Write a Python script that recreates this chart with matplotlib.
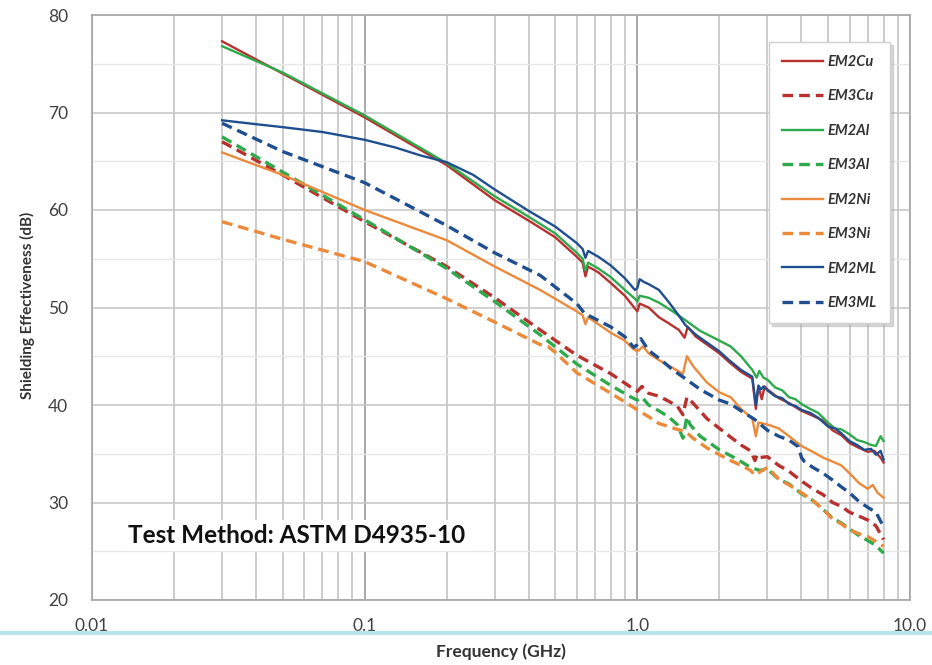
import matplotlib
matplotlib.use("Agg")
import matplotlib.pyplot as plt
from matplotlib.lines import Line2D
from matplotlib.ticker import LogLocator, MultipleLocator, NullFormatter

plt.rcParams['font.family'] = ['Lato', 'DejaVu Sans']

# frequency (GHz) / shielding effectiveness (dB)
f_em2cu = [0.03, 0.05, 0.1, 0.2, 0.3, 0.4, 0.5, 0.6, 0.63, 0.645, 0.66, 0.72, 0.8, 0.9, 0.98, 1.0,
           1.02, 1.1, 1.2, 1.3, 1.42, 1.49, 1.53, 1.64, 2.0, 2.17, 2.4, 2.64, 2.72, 2.78, 2.86,
           2.93, 3.0, 3.3, 3.6, 4.0, 4.4, 4.8, 5.2, 5.6, 6.0, 6.5, 7.0, 7.4, 7.8, 8.0]
se_em2cu = [77.3, 74.0, 69.5, 64.6, 61.0, 58.9, 57.2, 55.2, 54.6, 53.2, 54.2, 53.6, 52.5, 51.2, 49.9, 49.6,
            50.4, 50.0, 49.0, 48.4, 47.7, 46.9, 48.0, 47.0, 45.3, 44.4, 43.4, 42.7, 39.6, 41.9, 40.6,
            41.9, 41.6, 40.7, 40.2, 39.4, 38.9, 38.4, 37.4, 36.9, 36.1, 35.6, 35.2, 35.3, 34.6, 34.1]

f_em3cu = [0.03, 0.05, 0.1, 0.2, 0.3, 0.44, 0.6, 0.8, 0.95, 1.0, 1.04, 1.1, 1.2, 1.3, 1.4, 1.47,
           1.52, 1.6, 1.8, 2.0, 2.2, 2.4, 2.6, 2.7, 2.75, 2.8, 3.0, 3.3, 3.6, 4.0, 4.4, 4.8, 5.2,
           5.6, 6.0, 6.5, 7.0, 7.5, 8.0]
se_em3cu = [67.0, 63.6, 58.8, 54.2, 51.0, 47.7, 45.1, 43.2, 41.8, 41.4, 41.9, 41.2, 40.9, 40.4, 39.9, 39.0,
            40.8, 40.2, 38.6, 37.6, 36.7, 35.9, 35.3, 34.3, 34.9, 34.6, 34.7, 33.8, 33.2, 32.2, 31.4, 30.8, 30.0,
            29.6, 29.0, 28.6, 28.2, 27.6, 26.2]

f_em2al = [0.03, 0.05, 0.1, 0.2, 0.3, 0.4, 0.5, 0.6, 0.63, 0.645, 0.66, 0.72, 0.8, 0.9, 0.98, 1.0,
           1.02, 1.1, 1.2, 1.35, 1.5, 1.7, 2.0, 2.2, 2.4, 2.64, 2.74, 2.8, 2.9, 3.0, 3.2, 3.4, 3.6,
           3.8, 4.0, 4.3, 4.6, 5.0, 5.3, 5.6, 6.0, 6.4, 6.8, 7.2, 7.5, 7.8, 8.0]
se_em2al = [76.8, 74.1, 69.7, 64.8, 61.4, 59.3, 57.6, 55.6, 55.0, 53.8, 54.6, 54.0, 53.1, 51.8, 50.9, 50.6,
            51.2, 51.0, 50.5, 49.6, 48.7, 47.6, 46.6, 46.0, 45.0, 43.6, 42.8, 43.5, 42.8, 42.6, 41.8, 41.5, 40.8,
            40.6, 40.1, 39.6, 39.2, 38.2, 37.6, 37.5, 37.0, 36.4, 36.2, 35.9, 35.8, 36.8, 36.3]

f_em3al = [0.03, 0.05, 0.1, 0.2, 0.3, 0.44, 0.6, 0.8, 0.95, 1.0, 1.04, 1.1, 1.2, 1.3, 1.4, 1.47,
           1.52, 1.56, 1.7, 2.0, 2.2, 2.4, 2.6, 2.8, 3.0, 3.3, 3.6, 4.0, 4.4, 4.8, 5.2, 5.6, 6.0,
           6.5, 7.0, 7.5, 8.0]
se_em3al = [67.5, 63.9, 59.0, 54.0, 50.6, 47.2, 44.2, 42.0, 40.8, 40.5, 40.8, 40.0, 39.4, 38.8, 38.0, 36.6,
            38.8, 38.0, 36.8, 35.4, 34.8, 34.2, 33.6, 33.3, 33.4, 32.4, 31.9, 30.9, 30.2, 29.3, 28.4, 27.9, 27.3,
            26.6, 26.1, 25.6, 24.8]

f_em2ni = [0.03, 0.05, 0.1, 0.2, 0.3, 0.44, 0.6, 0.63, 0.645, 0.66, 0.8, 0.9, 0.96, 1.0, 1.05, 1.1,
           1.2, 1.35, 1.47, 1.52, 1.6, 1.8, 2.0, 2.2, 2.4, 2.64, 2.72, 2.78, 3.0, 3.3, 3.6, 4.0, 4.4,
           4.8, 5.2, 5.6, 6.0, 6.5, 7.0, 7.3, 7.6, 8.0]
se_em2ni = [65.9, 63.6, 60.0, 56.9, 54.2, 51.8, 49.6, 49.2, 48.3, 49.0, 47.4, 46.6, 45.8, 45.5, 46.0, 45.3,
            44.6, 43.8, 43.2, 45.0, 44.0, 42.3, 41.3, 40.8, 39.6, 38.6, 36.8, 38.2, 38.0, 37.6, 36.8, 35.8, 35.2,
            34.6, 34.2, 33.8, 33.0, 32.0, 31.4, 31.8, 31.0, 30.5]

f_em3ni = [0.03, 0.05, 0.1, 0.2, 0.3, 0.44, 0.47, 0.5, 0.6, 0.8, 0.95, 1.0, 1.1, 1.2, 1.3, 1.4,
           1.5, 1.6, 1.8, 2.0, 2.2, 2.4, 2.6, 2.7, 2.8, 3.0, 3.3, 3.6, 4.0, 4.4, 4.8, 5.2, 5.6,
           6.0, 6.5, 7.0, 7.5, 8.0]
se_em3ni = [58.8, 57.0, 54.7, 50.9, 48.5, 46.2, 46.0, 45.4, 43.3, 41.2, 39.9, 39.5, 38.8, 38.1, 37.8, 37.5,
            37.3, 36.6, 35.6, 34.9, 34.3, 33.8, 33.3, 32.8, 33.1, 33.6, 32.4, 31.8, 31.0, 30.2, 29.3, 28.3, 27.8,
            27.2, 26.8, 26.5, 26.0, 25.5]

f_em2ml = [0.03, 0.04, 0.05, 0.07, 0.1, 0.13, 0.16, 0.2, 0.25, 0.3, 0.4, 0.5, 0.6, 0.63, 0.645, 0.66,
           0.72, 0.8, 0.9, 0.98, 1.0, 1.02, 1.06, 1.1, 1.2, 1.3, 1.4, 1.5, 1.64, 2.0, 2.17, 2.4, 2.64,
           2.72, 2.78, 2.84, 2.9, 3.0, 3.2, 3.4, 3.6, 3.8, 4.0, 4.3, 4.6, 5.0, 5.3, 5.6, 6.0, 6.4,
           6.8, 7.2, 7.5, 7.8, 8.0]
se_em2ml = [69.2, 68.8, 68.5, 68.0, 67.2, 66.4, 65.6, 64.9, 63.6, 62.1, 59.9, 58.3, 56.6, 56.0, 55.1, 55.8,
            55.2, 54.3, 53.0, 51.8, 52.0, 52.9, 52.6, 52.4, 51.8, 50.6, 49.4, 48.2, 47.2, 45.5, 44.6, 43.6, 42.9,
            40.0, 42.0, 41.6, 41.9, 41.5, 40.9, 40.7, 40.1, 39.9, 39.5, 39.2, 38.7, 37.8, 37.6, 37.1, 36.3, 35.9,
            35.4, 35.5, 34.9, 35.3, 34.4]

f_em3ml = [0.03, 0.05, 0.1, 0.2, 0.3, 0.44, 0.6, 0.64, 0.8, 0.9, 0.97, 1.0, 1.03, 1.1, 1.2, 1.35,
           1.5, 1.7, 2.0, 2.2, 2.4, 2.7, 3.0, 3.3, 3.6, 3.9, 4.0, 4.1, 4.4, 4.8, 5.2, 5.6, 6.0, 6.5,
           7.0, 7.5, 8.0]
se_em3ml = [68.9, 66.0, 62.8, 58.4, 55.6, 53.3, 50.4, 49.4, 48.0, 47.0, 45.9, 46.2, 46.8, 45.6, 44.8, 43.6,
            42.7, 41.6, 40.5, 40.1, 39.4, 38.5, 37.4, 36.8, 36.4, 35.7, 34.6, 34.2, 33.6, 33.0, 32.3, 31.6, 31.0, 30.1,
            29.5, 29.0, 27.5]

red = '#b8312f'
green = '#2eaa4c'
orange = '#ec8a3c'
blue = '#1f4f8f'
dash = (0, (3.2, 1.8))

fig = plt.figure(figsize=(9.32, 6.65), dpi=100)
ax = fig.add_axes([92 / 932, 1 - 600 / 665, 818 / 932, 585 / 665])

ax.plot(f_em2cu, se_em2cu, color=red, lw=1.7, label='EM2Cu')
ax.plot(f_em3cu, se_em3cu, color=red, lw=2.4, ls=dash, label='EM3Cu')
ax.plot(f_em2al, se_em2al, color=green, lw=1.7, label='EM2Al')
ax.plot(f_em3al, se_em3al, color=green, lw=2.4, ls=dash, label='EM3Al')
ax.plot(f_em2ni, se_em2ni, color=orange, lw=1.7, label='EM2Ni')
ax.plot(f_em3ni, se_em3ni, color=orange, lw=2.4, ls=dash, label='EM3Ni')
ax.plot(f_em2ml, se_em2ml, color=blue, lw=1.7, label='EM2ML')
ax.plot(f_em3ml, se_em3ml, color=blue, lw=2.4, ls=dash, label='EM3ML')

ax.set_xscale('log')
ax.set_xlim(0.01, 10)
ax.set_ylim(20, 80)
ax.set_xticks([0.01, 0.1, 1, 10])
ax.set_xticklabels(['0.01', '0.1', '1.0', '10.0'])
ax.xaxis.set_minor_locator(LogLocator(base=10, subs=range(2, 10)))
ax.xaxis.set_minor_formatter(NullFormatter())
ax.yaxis.set_major_locator(MultipleLocator(10))
ax.yaxis.set_minor_locator(MultipleLocator(5))
ax.tick_params(which='both', length=0, labelsize=12.5, labelcolor='#404040')
ax.tick_params(axis='x', pad=13)
ax.tick_params(axis='y', pad=17)

ax.grid(which='major', axis='x', color='#a8a8a8', lw=1.4)
ax.grid(which='minor', axis='x', color='#c4c4c4', lw=1.2)
ax.grid(which='major', axis='y', color='#c8c8c8', lw=1.2)
ax.grid(which='minor', axis='y', color='#e6e6e6', lw=1.0)
ax.set_axisbelow(True)
for s in ax.spines.values():
    s.set_color('#a6a6a6')
    s.set_linewidth(1.2)

fig.text(27 / 932, 1 - 305 / 665, 'Shielding Effectiveness (dB)', rotation=90, ha='center', va='center',
         fontsize=11, fontweight='bold', color='#333333')
fig.text(501 / 932, 1 - 652 / 665, 'Frequency (GHz)', ha='center', va='center',
         fontsize=12.5, fontweight='bold', color='#333333')

ax.text(0.0136, 26.6, 'Test Method: ASTM D4935-10', fontsize=17.5, fontweight='bold', color='#111111',
        va='center', ha='left', bbox=dict(facecolor='white', edgecolor='none', pad=3))

leg = ax.legend(loc='upper right', bbox_to_anchor=(0.9756, 0.954), borderaxespad=0,
                prop={'style': 'italic', 'weight': 'bold', 'size': 10.5}, labelspacing=1.4,
                handlelength=2.8, handletextpad=0.3, borderpad=0.9, fancybox=False,
                shadow={'color': '0.7', 'alpha': 0.5}, framealpha=1, edgecolor='#d0d0d0')
for t in leg.get_texts():
    t.set_color('#333333')

fig.add_artist(Line2D([0, 1], [1 - 633 / 665] * 2, transform=fig.transFigure, color='#b9e4eb', lw=3))

fig.savefig('out.png', dpi=100)
